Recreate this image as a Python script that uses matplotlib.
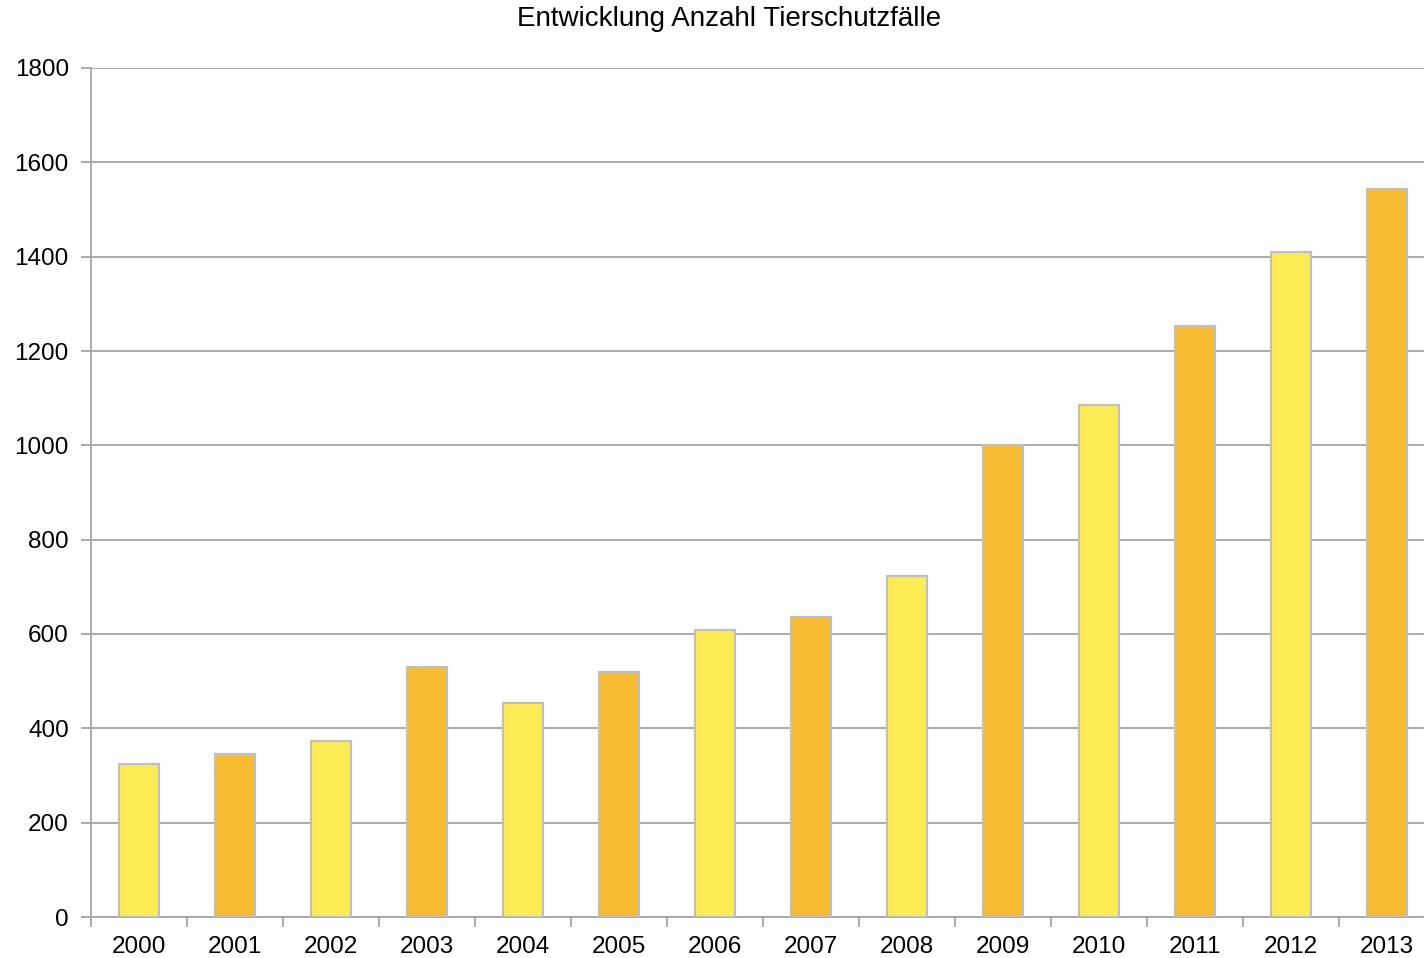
import numpy as np
import matplotlib.pyplot as plt

# dane
years = ["2000", "2001", "2002", "2003", "2004", "2005", "2006",
         "2007", "2008", "2009", "2010", "2011", "2012", "2013"]
cases = [325, 346, 373, 530, 453, 519, 608, 636, 723, 1000, 1085, 1253, 1410, 1543]
bar_colors = ["#FDEB55", "#F6BB33"]

plt.rcParams['font.family'] = ['Liberation Sans', 'DejaVu Sans']

fig = plt.figure(figsize=(14.24, 9.58), dpi=100)
W, H = 1424, 958
# axes runs past the right edge like in the original screenshot
ax = fig.add_axes([91 / W, (H - 917) / H, 1344 / W, 849 / H])

x = np.arange(len(years))
cols = [bar_colors[i % 2] for i in range(len(years))]
ax.bar(x, cases, width=0.41, color=cols, edgecolor="#C0C0C0", linewidth=1.6, zorder=3)

ax.set_xlim(-0.5, len(years) - 0.5)
ax.set_ylim(0, 1800)
ax.set_yticks(range(0, 1801, 200))
ax.yaxis.grid(True, color="#A6A6A6", linewidth=1.3, zorder=0)

ax.set_xticks(x)
ax.set_xticklabels(years, fontsize=17.5)
ax.set_xticks(np.arange(-0.5, len(years), 1), minor=True)
ax.tick_params(axis="x", which="major", length=0, pad=14)
ax.tick_params(axis="x", which="minor", length=7, color="#A6A6A6", width=1.3, direction="out")
ax.tick_params(axis="y", length=7, color="#A6A6A6", width=1.3, labelsize=17.5, pad=9)

for s in ["top", "right"]:
    ax.spines[s].set_visible(False)
for s in ["left", "bottom"]:
    ax.spines[s].set_color("#A6A6A6")
    ax.spines[s].set_linewidth(1.3)

fig.text(729 / W, 1 - 19 / H, "Entwicklung Anzahl Tierschutzfälle",
         ha="center", va="center", fontsize=20)

fig.savefig("out.png", dpi=100)
